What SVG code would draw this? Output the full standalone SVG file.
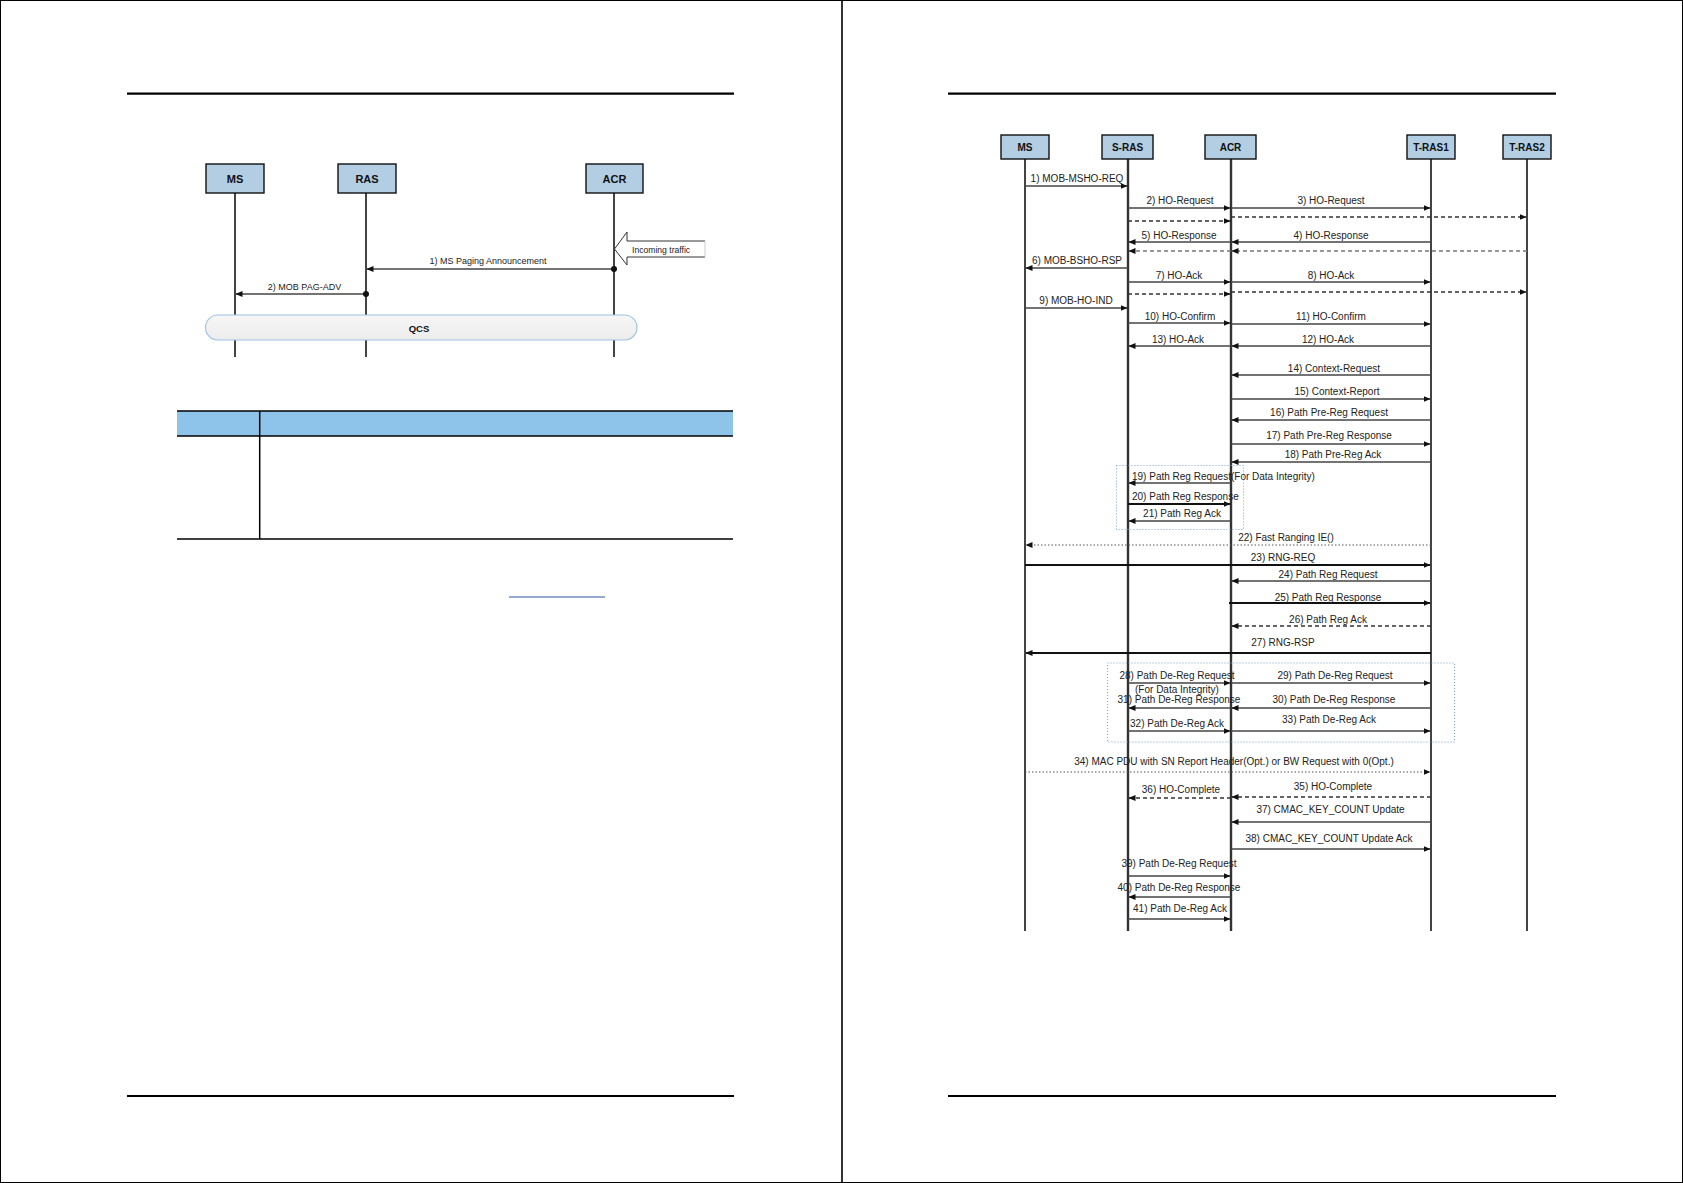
<svg xmlns="http://www.w3.org/2000/svg" width="1683" height="1183" viewBox="0 0 1683 1183">
<style>
.page{stroke:#000;fill:none}
.hdr{stroke:#000;stroke-width:2.2}
.box{fill:#b3cde3;stroke:#111;stroke-width:1.4}
.bt{font-family:"Liberation Sans",Arial,sans-serif;font-weight:bold;fill:#111;text-anchor:middle}
.life{stroke:#444;stroke-width:2;fill:none}
.lifed{stroke:#333;stroke-width:2.4;fill:none}
.msg{stroke:#444;stroke-width:1.3;fill:none}
.thick{stroke:#111;stroke-width:1.8;fill:none}
.dash{stroke:#333;stroke-width:1.3;stroke-dasharray:4 3;fill:none}
.dashg{stroke:#777;stroke-width:1.3;stroke-dasharray:4 3;fill:none}
.dot{stroke:#555;stroke-width:1;stroke-dasharray:1.5 2;fill:none}
.grp{stroke:#7aa3d6;stroke-width:1;stroke-dasharray:1 2;fill:none}
.lb{font-family:"Liberation Sans",Arial,sans-serif;font-size:10px;fill:#222;text-anchor:middle}
.ls{font-family:"Liberation Sans",Arial,sans-serif;font-size:10px;fill:#222;text-anchor:start}
.lbl{font-family:"Liberation Sans",Arial,sans-serif;font-size:9px;fill:#222;text-anchor:middle}
.tb{stroke:#000;stroke-width:1.5}
</style>
<defs>
<marker id="ah" markerUnits="userSpaceOnUse" markerWidth="7" markerHeight="6" refX="6.5" refY="3" orient="auto">
<path d="M0,0 L7,3 L0,6 z" fill="#111"/>
</marker>
<linearGradient id="qg" x1="0" y1="0" x2="0" y2="1">
<stop offset="0" stop-color="#f7f7f7"/>
<stop offset="1" stop-color="#ececec"/>
</linearGradient>
</defs>
<rect x="0" y="0" width="1683" height="1183" fill="#fff"/>
<g id="pages">
<rect class="page" x="0.5" y="0.5" width="1682" height="1182" stroke-width="1"/>
<line x1="842" y1="0" x2="842" y2="1183" stroke="#000" stroke-width="1.6"/>
<line class="hdr" x1="127" y1="93.7" x2="734" y2="93.7"/>
<line class="hdr" x1="948" y1="93.7" x2="1556" y2="93.7"/>
<line class="hdr" x1="127" y1="1096" x2="734" y2="1096"/>
<line class="hdr" x1="948" y1="1096" x2="1556" y2="1096"/>
</g>
<g id="table">
<rect x="177" y="411" width="556" height="25" fill="#8ec4ea"/>
<line class="tb" x1="177" y1="411" x2="733" y2="411"/>
<line class="tb" x1="177" y1="436" x2="733" y2="436"/>
<line class="tb" x1="177" y1="539" x2="733" y2="539"/>
<line class="tb" x1="259.7" y1="411" x2="259.7" y2="539"/>
<line x1="509" y1="597" x2="605" y2="597" stroke="#2f56a0" stroke-width="1.2"/>
</g>
<g id="left-lifelines">
<line class="life" x1="235" y1="193" x2="235" y2="357"/>
<line class="life" x1="366" y1="193" x2="366" y2="357"/>
<line class="life" x1="614" y1="193" x2="614" y2="357"/>
</g>
<g id="L-MS"><rect class="box" x="206" y="164" width="58" height="29"/><text class="bt" x="235" y="182.5" font-size="11">MS</text></g>
<g id="L-RAS"><rect class="box" x="338" y="164" width="58" height="29"/><text class="bt" x="367" y="182.5" font-size="11">RAS</text></g>
<g id="L-ACR"><rect class="box" x="586" y="164" width="57" height="29"/><text class="bt" x="614.5" y="182.5" font-size="11">ACR</text></g>
<g id="L-incoming">
<path d="M705,241 L627,241 L627,232 L614.5,249 L627,265 L627,257 L705,257" fill="#fff" stroke="#333" stroke-width="1"/>
<line x1="705" y1="241" x2="705" y2="257" stroke="#ccc" stroke-width="1"/>
<text x="632" y="252.5" font-family="Liberation Sans,Arial,sans-serif" font-size="8.6" fill="#222">Incoming traffic</text>
</g>
<g id="L-connectors">
<line class="msg" x1="614" y1="269" x2="367" y2="269" marker-end="url(#ah)"/>
<circle cx="614" cy="269" r="3" fill="#111"/>
<text class="lbl" x="488" y="264">1) MS Paging Announcement</text>
<line class="msg" x1="366" y1="294" x2="236" y2="294" marker-end="url(#ah)"/>
<circle cx="366" cy="294" r="3" fill="#111"/>
<text class="lbl" x="304.5" y="290">2) MOB PAG-ADV</text>
</g>
<g id="L-QCS">
<rect x="205.5" y="315" width="431.5" height="25" rx="12.5" ry="12.5" fill="url(#qg)" stroke="#9dc3e6" stroke-width="1.2"/>
<text class="bt" x="419" y="331.5" font-size="9.5">QCS</text>
</g>
<g id="right-lifelines">
<line class="life" x1="1025" y1="159" x2="1025" y2="931"/>
<line class="lifed" x1="1128" y1="159" x2="1128" y2="931"/>
<line class="lifed" x1="1231" y1="159" x2="1231" y2="931"/>
<line class="life" x1="1431" y1="159" x2="1431" y2="931"/>
<line class="life" x1="1527" y1="159" x2="1527" y2="931"/>
</g>
<g id="R-MS"><rect class="box" x="1001" y="135" width="48" height="24"/><text class="bt" x="1025" y="151" font-size="10">MS</text></g>
<g id="R-SRAS"><rect class="box" x="1102" y="135" width="51" height="24"/><text class="bt" x="1127.5" y="151" font-size="10">S-RAS</text></g>
<g id="R-ACR"><rect class="box" x="1205" y="135" width="51" height="24"/><text class="bt" x="1230.5" y="151" font-size="10">ACR</text></g>
<g id="R-TRAS1"><rect class="box" x="1407" y="135" width="48" height="24"/><text class="bt" x="1431" y="151" font-size="10">T-RAS1</text></g>
<g id="R-TRAS2"><rect class="box" x="1503" y="135" width="48" height="24"/><text class="bt" x="1527" y="151" font-size="10">T-RAS2</text></g>
<g id="groups">
<rect class="grp" x="1116.5" y="465.5" width="127" height="64"/>
<rect class="grp" x="1107.5" y="663" width="347" height="79"/>
</g>
<g id="connectors">
<line class="msg" x1="1025" y1="186" x2="1127" y2="186" marker-end="url(#ah)"/>
<text class="lb" x="1077" y="182">1) MOB-MSHO-REQ</text>
<line class="msg" x1="1128" y1="208" x2="1230" y2="208" marker-end="url(#ah)"/>
<text class="lb" x="1180" y="204">2) HO-Request</text>
<line class="msg" x1="1231" y1="208" x2="1430" y2="208" marker-end="url(#ah)"/>
<text class="lb" x="1331" y="204">3) HO-Request</text>
<line class="dash" x1="1128" y1="221" x2="1230" y2="221" marker-end="url(#ah)"/>
<line class="dash" x1="1231" y1="217" x2="1526" y2="217" marker-end="url(#ah)"/>
<line class="msg" x1="1231" y1="242" x2="1129" y2="242" marker-end="url(#ah)"/>
<text class="lb" x="1179" y="239">5) HO-Response</text>
<line class="msg" x1="1431" y1="242" x2="1232" y2="242" marker-end="url(#ah)"/>
<text class="lb" x="1331" y="239">4) HO-Response</text>
<line class="dashg" x1="1231" y1="251" x2="1129" y2="251" marker-end="url(#ah)"/>
<line class="dashg" x1="1527" y1="251" x2="1232" y2="251" marker-end="url(#ah)"/>
<line class="msg" x1="1128" y1="268" x2="1026" y2="268" marker-end="url(#ah)"/>
<text class="lb" x="1077" y="263.5">6) MOB-BSHO-RSP</text>
<line class="msg" x1="1128" y1="282" x2="1230" y2="282" marker-end="url(#ah)"/>
<text class="lb" x="1179" y="279">7) HO-Ack</text>
<line class="msg" x1="1231" y1="282" x2="1430" y2="282" marker-end="url(#ah)"/>
<text class="lb" x="1331" y="279">8) HO-Ack</text>
<line class="dash" x1="1128" y1="294" x2="1230" y2="294" marker-end="url(#ah)"/>
<line class="dash" x1="1231" y1="292" x2="1526" y2="292" marker-end="url(#ah)"/>
<line class="msg" x1="1025" y1="308" x2="1127" y2="308" marker-end="url(#ah)"/>
<text class="lb" x="1076" y="304">9) MOB-HO-IND</text>
<line class="msg" x1="1128" y1="323" x2="1230" y2="323" marker-end="url(#ah)"/>
<text class="lb" x="1180" y="319.5">10) HO-Confirm</text>
<line class="msg" x1="1231" y1="324" x2="1430" y2="324" marker-end="url(#ah)"/>
<text class="lb" x="1331" y="319.5">11) HO-Confirm</text>
<line class="msg" x1="1231" y1="346" x2="1129" y2="346" marker-end="url(#ah)"/>
<text class="lb" x="1178" y="343">13) HO-Ack</text>
<line class="msg" x1="1431" y1="346" x2="1232" y2="346" marker-end="url(#ah)"/>
<text class="lb" x="1328" y="343">12) HO-Ack</text>
<line class="msg" x1="1431" y1="375" x2="1232" y2="375" marker-end="url(#ah)"/>
<text class="lb" x="1334" y="371.5">14) Context-Request</text>
<line class="msg" x1="1231" y1="399" x2="1430" y2="399" marker-end="url(#ah)"/>
<text class="lb" x="1337" y="395">15) Context-Report</text>
<line class="msg" x1="1431" y1="420" x2="1232" y2="420" marker-end="url(#ah)"/>
<text class="lb" x="1329" y="415.5">16) Path Pre-Reg Request</text>
<line class="msg" x1="1231" y1="444" x2="1430" y2="444" marker-end="url(#ah)"/>
<text class="lb" x="1329" y="439">17) Path Pre-Reg Response</text>
<line class="msg" x1="1431" y1="462" x2="1232" y2="462" marker-end="url(#ah)"/>
<text class="lb" x="1333" y="457.5">18) Path Pre-Reg Ack</text>
<line class="msg" x1="1231" y1="483" x2="1129" y2="483" marker-end="url(#ah)"/>
<text class="ls" x="1132" y="479.5">19) Path Reg Request(For Data Integrity)</text>
<line class="thick" x1="1128" y1="504" x2="1230" y2="504" marker-end="url(#ah)"/>
<text class="ls" x="1132" y="499.5">20) Path Reg Response</text>
<line class="msg" x1="1231" y1="521" x2="1129" y2="521" marker-end="url(#ah)"/>
<text class="lb" x="1182" y="516.5">21) Path Reg Ack</text>
<line class="dot" x1="1431" y1="545" x2="1026" y2="545" marker-end="url(#ah)"/>
<text class="lb" x="1286" y="541">22) Fast Ranging IE()</text>
<line class="thick" x1="1025" y1="565" x2="1430" y2="565" marker-end="url(#ah)"/>
<text class="lb" x="1283" y="561">23) RNG-REQ</text>
<line class="msg" x1="1431" y1="581" x2="1232" y2="581" marker-end="url(#ah)"/>
<text class="lb" x="1328" y="578">24) Path Reg Request</text>
<line class="thick" x1="1229" y1="603" x2="1430" y2="603" marker-end="url(#ah)"/>
<text class="lb" x="1328" y="600.5">25) Path Reg Response</text>
<line class="dash" x1="1431" y1="626" x2="1232" y2="626" marker-end="url(#ah)"/>
<text class="lb" x="1328" y="623">26) Path Reg Ack</text>
<line class="thick" x1="1431" y1="653" x2="1026" y2="653" marker-end="url(#ah)"/>
<text class="lb" x="1283" y="646">27) RNG-RSP</text>
<line class="msg" x1="1128" y1="683" x2="1230" y2="683" marker-end="url(#ah)"/>
<text class="lb" x="1177" y="679">28) Path De-Reg Request</text>
<text class="lb" x="1177" y="692.5">(For Data Integrity)</text>
<line class="msg" x1="1231" y1="683" x2="1430" y2="683" marker-end="url(#ah)"/>
<text class="lb" x="1335" y="679">29) Path De-Reg Request</text>
<line class="msg" x1="1231" y1="708" x2="1129" y2="708" marker-end="url(#ah)"/>
<text class="lb" x="1179" y="702.5">31) Path De-Reg Response</text>
<line class="msg" x1="1431" y1="708" x2="1232" y2="708" marker-end="url(#ah)"/>
<text class="lb" x="1334" y="702.5">30) Path De-Reg Response</text>
<line class="msg" x1="1128" y1="731" x2="1230" y2="731" marker-end="url(#ah)"/>
<text class="lb" x="1177" y="727">32) Path De-Reg Ack</text>
<line class="msg" x1="1231" y1="731" x2="1430" y2="731" marker-end="url(#ah)"/>
<text class="lb" x="1329" y="722.5">33) Path De-Reg Ack</text>
<line class="dot" x1="1025" y1="772" x2="1430" y2="772" marker-end="url(#ah)"/>
<text class="lb" x="1234" y="765">34) MAC PDU with SN Report Header(Opt.) or BW Request with 0(Opt.)</text>
<line class="dash" x1="1231" y1="798" x2="1129" y2="798" marker-end="url(#ah)"/>
<text class="lb" x="1181" y="792.5">36) HO-Complete</text>
<line class="dash" x1="1431" y1="797" x2="1232" y2="797" marker-end="url(#ah)"/>
<text class="lb" x="1333" y="790">35) HO-Complete</text>
<line class="msg" x1="1431" y1="822" x2="1232" y2="822" marker-end="url(#ah)"/>
<text class="lb" x="1330.5" y="813">37) CMAC_KEY_COUNT Update</text>
<line class="msg" x1="1231" y1="849" x2="1430" y2="849" marker-end="url(#ah)"/>
<text class="lb" x="1329" y="841.5">38) CMAC_KEY_COUNT Update Ack</text>
<line class="msg" x1="1128" y1="876" x2="1230" y2="876" marker-end="url(#ah)"/>
<text class="lb" x="1179" y="867">39) Path De-Reg Request</text>
<line class="msg" x1="1231" y1="897" x2="1129" y2="897" marker-end="url(#ah)"/>
<text class="lb" x="1179" y="890.5">40) Path De-Reg Response</text>
<line class="msg" x1="1128" y1="919" x2="1230" y2="919" marker-end="url(#ah)"/>
<text class="lb" x="1180" y="912">41) Path De-Reg Ack</text>
</g>
</svg>
